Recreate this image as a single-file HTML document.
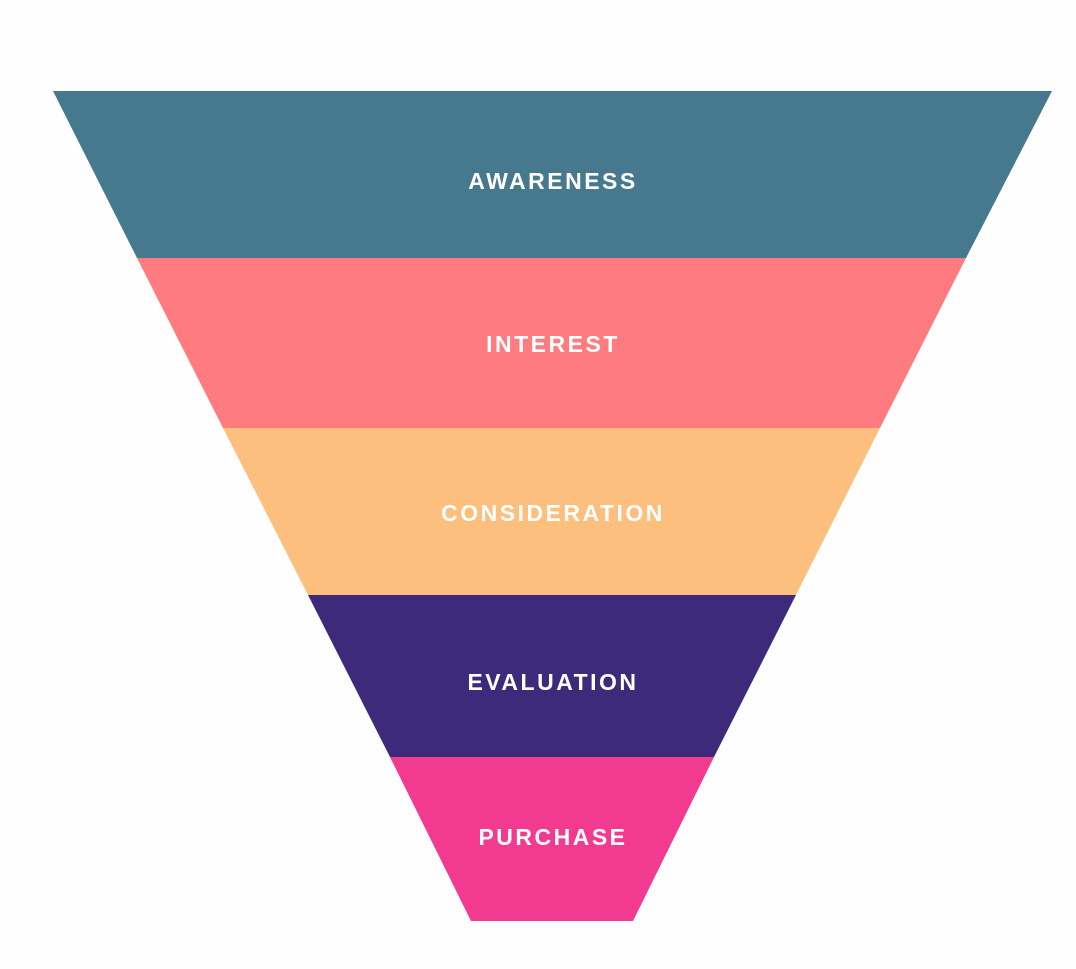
<!DOCTYPE html>
<html><head><meta charset="utf-8"><style>
html,body{margin:0;padding:0;background:#fff;}
svg{display:block;}
text{font-family:"Liberation Sans",sans-serif;font-weight:bold;font-size:23px;fill:#fff;text-anchor:middle;letter-spacing:2.5px;}
</style></head><body>
<svg width="1076" height="969" viewBox="0 0 1076 969">
<rect width="1076" height="969" fill="#fefefe"/>
<polygon points="53,91 1052,91 966,258 137,258" fill="#46788E"/>
<polygon points="137,258 966,258 880,428 223,428" fill="#FE7B80"/>
<polygon points="223,428 880,428 796,595 308,595" fill="#FDBF7E"/>
<polygon points="308,595 796,595 714,757 390,757" fill="#3D2A7A"/>
<polygon points="390,757 714,757 633,921 471,921" fill="#F23A90"/>
<text x="553" y="189">AWARENESS</text>
<text x="553" y="352">INTEREST</text>
<text x="553" y="521">CONSIDERATION</text>
<text x="553" y="690">EVALUATION</text>
<text x="553" y="845">PURCHASE</text>
</svg>
</body></html>
